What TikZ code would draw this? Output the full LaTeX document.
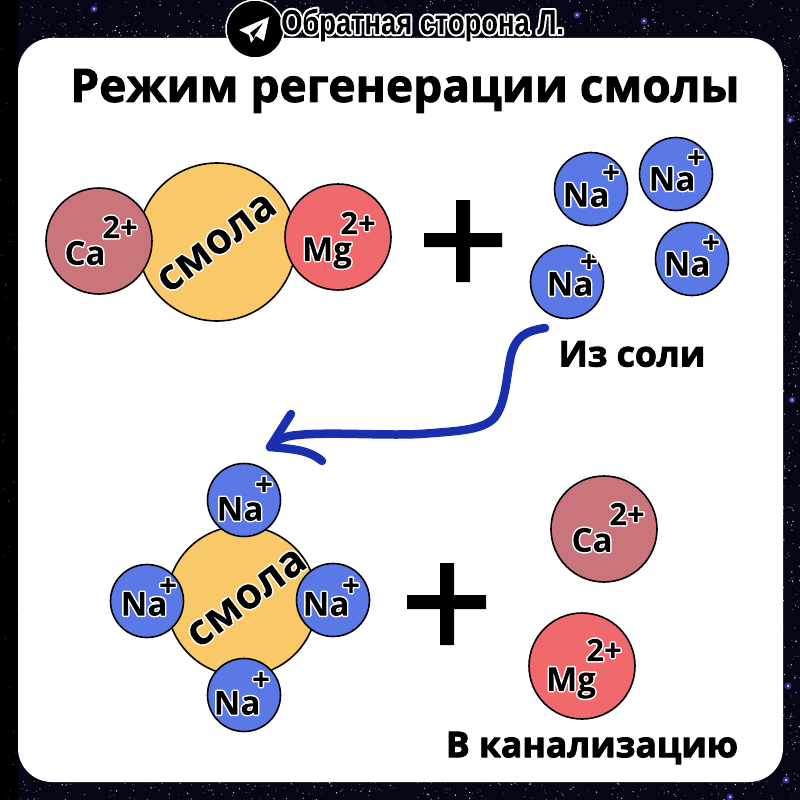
\documentclass[tikz,border=0pt]{standalone}
\usepackage{fontspec}
\setmainfont{Open Sans}
\newfontfamily\hdrfont{Liberation Sans}[UprightFont=* Bold,FakeStretch=0.78]
\usetikzlibrary{calc}
\definecolor{spacebg}{HTML}{050716}
\definecolor{caC}{HTML}{C9757B}
\definecolor{mgC}{HTML}{F0696D}
\definecolor{naC}{HTML}{5A78E6}
\definecolor{resinC}{HTML}{F9C868}
\definecolor{arrowC}{HTML}{1A2FAE}
% text with a white outer outline: stroke white, keep the glyphs as clip, then paint them black
\newcommand{\outl}[2]{\leavevmode\special{pdf:code q 5 Tr 1 1 1 RG 1 j #1 w}#2\special{pdf:code 0 g -9000 -9000 18000 18000 re f Q}}
% heavier black text: fill and stroke
\newcommand{\heavy}[1]{\leavevmode\special{pdf:code q 2 Tr 0 0 0 RG 1 j 0.9 w}#1\special{pdf:code Q}}
\tikzset{
  x=1pt,y=-1pt,
  particle/.style={circle,draw=black,line width=1.6pt,inner sep=0pt},
  ionlbl/.style={font=\fontsize{33}{33}\selectfont\bfseries,text=black,inner sep=0pt},
  chargelbl/.style={font=\fontsize{31}{31}\selectfont\bfseries,text=black,inner sep=0pt},
  resinlbl/.style={font=\fontsize{43}{43}\selectfont\bfseries,text=black,inner sep=0pt,rotate=37},
  caption/.style={font=\fontsize{35.5}{36}\selectfont\bfseries,text=black,inner sep=0pt},
  curvearrow/.style={draw=arrowC,line width=8.5pt,line cap=round,line join=round},
}
\newcommand{\ion}[9]{%
  \node[particle,fill=#3,minimum size=#4pt] (#1) at (#2) {};
  \node[ionlbl] (#1sym) at ($(#1)+(#6)$) {\outl{3}{#5}};
  \node[chargelbl] (#1chg) at ($(#1)+(#8)$) {\outl{3}{#7}};
}
\newcommand{\stars}[6]{% count, x0, x1, y0, y1, strength
  \foreach \i in {1,...,#1}{
    \pgfmathsetmacro{\sx}{#2+rnd*(#3-#2)}
    \pgfmathsetmacro{\sy}{#4+rnd*(#5-#4)}
    \pgfmathsetmacro{\sr}{0.25+rnd*0.6}
    \pgfmathsetmacro{\sb}{#6*(0.3+rnd*0.7)}
    \fill[white!\sb!spacebg] (\sx,\sy) circle (\sr pt);
  }
}
\newcommand{\brightstar}[2]{%
  \fill[blue!60!white!45!spacebg] (#1,#2) circle (3.5pt);
  \fill[blue!30!white] (#1,#2) circle (1.5pt);
}
\begin{document}
\begin{tikzpicture}
\useasboundingbox (0,0) rectangle (800,800);
\fill[spacebg] (0,0) rectangle (800,800);
\fill[black] (0,0) rectangle (18,800);
\pgfmathsetseed{7}
\stars{450}{18}{800}{0}{40}{90}
\stars{280}{18}{800}{780}{800}{90}
\stars{280}{783}{800}{30}{790}{90}
\stars{50}{0}{18}{0}{800}{40}
\brightstar{94}{9}\brightstar{577}{15}\brightstar{644}{21}\brightstar{788}{686}\brightstar{786}{780}\brightstar{730}{797}\brightstar{790}{120}\brightstar{792}{400}
\fill[white] (18,38) [rounded corners=34pt] rectangle (783,782);
% header
\node[circle,fill=black,draw=white,line width=1.5pt,minimum size=58pt,inner sep=0pt] (logo) at (255,29) {};
\fill[white] (239,30) -- (269,17) -- (264,41) -- (256,36) -- (251,43) -- (249,35) -- cycle;
\fill[black] (250,33) -- (263,23) -- (255,35) -- (254,39) -- (252,36) -- cycle;
\node[anchor=west,inner sep=0pt,font=\hdrfont\fontsize{35}{35}\selectfont,text=black] (hdr) at (281,25) {\outl{4}{Обратная сторона Л.}};
\node[inner sep=0pt,font=\fontsize{46}{46}\selectfont\bfseries,text=black] (title) at (405,91) {\heavy{Режим регенерации смолы}};
% top-left complex
\node[particle,fill=resinC,minimum size=158pt] (resinA) at (217,242) {};
\ion{caA}{99,241}{caC}{106}{Ca}{-14,12}{2+}{21,-14}{}
\ion{mgA}{338,237}{mgC}{106}{Mg}{-11,16}{2+}{20,-14}{}
\node[resinlbl] (resinAt) at (217,243) {\outl{3}{смола}};
% top plus
\fill[black] (424,233) rectangle (502,247) (456,200) rectangle (470,282);
% top Na
\ion{naA}{591,189}{naC}{73}{Na}{-5,6}{+}{20,-15}{}
\ion{naB}{676,174}{naC}{73}{Na}{-4,5}{+}{20,-15}{}
\ion{naC}{567,282}{naC}{73}{Na}{3,2}{+}{22,-19}{}
\ion{naD}{692,259}{naC}{73}{Na}{-5,5}{+}{19,-15}{}
\node[caption] (salt) at (632,354) {\heavy{Из соли}};
% arrow
\coordinate (arrS) at (545,328);
\coordinate (arrE) at (270,447);
\coordinate (arrH1) at (291,414);
\coordinate (arrH2) at (322,461);
\path[curvearrow] (arrS) .. controls (525,331) and (516,337) .. (511,355)
  .. controls (506,378) and (506,402) .. (495,417)
  .. controls (484,430) and (460,431) .. (420,434)
  .. controls (380,436) and (320,431) .. (290,436)
  .. controls (280,438) and (274,442) .. (arrE);
\path[curvearrow] (arrH1) -- (arrE) .. controls (290,449) and (308,449) .. (arrH2);
% lower complex
\node[particle,fill=resinC,minimum size=150pt] (resinB) at (242,601) {};
\ion{naE}{244,500}{naC}{73}{Na}{-4,9}{+}{20,-14}{}
\ion{naF}{147,601}{naC}{73}{Na}{-3,3}{+}{21,-14}{}
\ion{naG}{333,600}{naC}{73}{Na}{-7,4}{+}{18,-13}{}
\ion{naH}{244,695}{naC}{73}{Na}{-7,8}{+}{17,-14}{}
\node[resinlbl] (resinBt) at (247,598) {\outl{3}{смола}};
% lower plus
\fill[black] (407,595) rectangle (486,609) (440,563) rectangle (454,645);
% products
\ion{caB}{604,529}{caC}{106}{Ca}{-12,11}{2+}{23,-15}{}
\ion{mgB}{582,666}{mgC}{106}{Mg}{-11,17}{2+}{22,-16}{}
\node[caption] (drain) at (592,748) {\heavy{В канализацию}};
\end{tikzpicture}
\end{document}
